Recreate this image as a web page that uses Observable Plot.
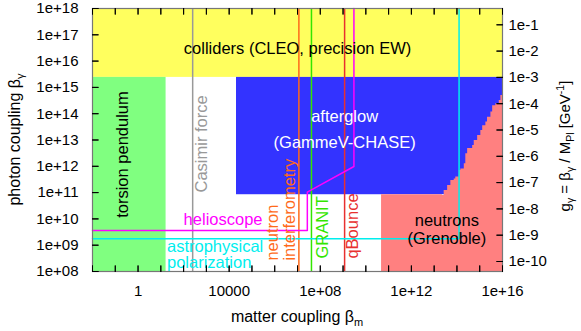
<!DOCTYPE html>
<html><head><meta charset="utf-8">
<script src="https://cdn.jsdelivr.net/npm/d3@7"></script>
<script src="https://cdn.jsdelivr.net/npm/@observablehq/plot@0.6"></script>
<style>body{margin:0;background:#fff} svg{display:block}</style>
</head><body><div id="chart"></div><script>
// ---- data ----
const M_PL = 2.4e18; // reduced Planck mass in GeV
const xTickValues = [1e-2,1e-1,1,1e1,1e2,1e3,1e4,1e5,1e6,1e7,1e8,1e9,1e10,1e11,1e12,1e13,1e14,1e15,1e16];
const xLabelValues = [1, 1e4, 1e8, 1e12, 1e16];
const xLabelText = ["1", "10000", "1e+08", "1e+12", "1e+16"];
const yTickValues = [1e8,1e9,1e10,1e11,1e12,1e13,1e14,1e15,1e16,1e17,1e18];
const yLabelText = ["1e+08","1e+09","1e+10","1e+11","1e+12","1e+13","1e+14","1e+15","1e+16","1e+17","1e+18"];
const gTickValues = [1e-10,1e-9,1e-8,1e-7,1e-6,1e-5,1e-4,1e-3,1e-2,1e-1];
const gLabelText = ["1e-10","1e-9","1e-8","1e-7","1e-6","1e-5","1e-4","1e-3","1e-2","1e-1"];

// excluded rectangular regions
const rectNames = ["colliders", "torsion", "afterglow"];
const rectXmin = [1e-2, 1e-2, 2.1e4];
const rectXmax = [1e16, 17, 1e16];
const rectYmin = [2.4e15, 1e8, 8.3e10];
const rectYmax = [1e18, 2.4e15, 2.4e15];

// neutrons (Grenoble) upper boundary (step)
const neutronX = [4.9e10, 2.3e13, 2.75e13, 3.9e13, 5.4e13, 7.6e13, 8.9e13, 1.26e14, 1.48e14, 2.1e14, 2.45e14, 2.95e14, 4.9e14, 5.75e14, 8.1e14, 1.12e15, 1.35e15, 1.86e15, 2.2e15, 3.1e15, 3.7e15, 5.1e15, 7.2e15, 8.5e15, 1e16];
const neutronY = [8.3e10, 7.8e10, 1.2e11, 1.86e11, 2.9e11, 3.3e11, 3.9e11, 6.9e11, 7.9e11, 1.26e12, 3.0e12, 4.7e12, 6.2e12, 9.5e12, 1.48e13, 2.3e13, 3.5e13, 4.8e13, 7.4e13, 1.15e14, 2.0e14, 2.4e14, 3.2e14, 4.9e14, 4.9e14];

// vertical bounds
const vlineNames = ["casimir", "interf", "granit", "qbounce"];
const vlineX = [250, 1.15e7, 4.1e7, 1.17e9];

// helioscope bound
const helioX = [1e-2, 2.7e7, 2.7e7, 3.0e9, 3.0e9];
const helioY = [3.6e9, 3.6e9, 1.05e11, 9.8e11, 1e18];
// astrophysical polarization bound
const astroX = [1e-2, 1.24e14, 1.24e14];
const astroY = [1.75e9, 1.75e9, 1e18];

// labels
const labelText = ["colliders (CLEO, precision EW)", "afterglow\n(GammeV-CHASE)", "neutrons\n(Grenoble)", "helioscope", "astrophysical\npolarization", "torsion pendulum", "Casimir force", "neutron\ninterferometry", "GRANIT", "qBounce"];
const labelKey = ["black", "white", "black", "helio", "astro", "black", "casimir", "interf", "granit", "qbounce"];
const labelX = [1e7, 1.17e9, 3.6e13, 100, 18.6, 0.21, 630, 1.9e6, 1.3e8, 2.7e9];
const labelY = [3.0e16, 3.2e13, 4e9, 9.1e9, 4.3e8, 2.8e12, 7.1e12, 2.6e8, 3.1e8, 3.1e8];

// ---- styles ----
const fills = {colliders: "#ffff5e", torsion: "#80ff80", afterglow: "#3333ff", neutrons: "#ff8080"};
const colors = {black: "#000", white: "#fff", casimir: "#999999", interf: "#ff6a1a", granit: "#33e600", qbounce: "#e8302f", helio: "#ff00ff", astro: "#00eeee"};
const labelAnchor = ["middle","middle","middle","start","start","middle","middle","start","start","start"];
const labelRotate = [0,0,0,0,0,-90,-90,-90,-90,-90];
const labelLH = [1,1.55,1.05,1,1.0,1,1,1,1,1];

const idx = a => a.map((_, i) => i);

const marks = [];
rectNames.forEach((n, i) => marks.push(Plot.rect([n], {x1: rectXmin[i], x2: rectXmax[i], y1: rectYmin[i], y2: rectYmax[i], fill: fills[n]})));
marks.push(Plot.areaY(idx(neutronX), {x: i => neutronX[i], y1: 1e8, y2: i => neutronY[i], curve: "step-after", fill: fills.neutrons}));
vlineNames.forEach((n, i) => marks.push(Plot.ruleX([vlineX[i]], {stroke: colors[n], strokeWidth: 1.5})));
marks.push(Plot.line(idx(helioX), {x: i => helioX[i], y: i => helioY[i], stroke: colors.helio, strokeWidth: 1.5}));
marks.push(Plot.line(idx(astroX), {x: i => astroX[i], y: i => astroY[i], stroke: colors.astro, strokeWidth: 1.5}));
labelText.forEach((t, i) => marks.push(Plot.text([t], {x: labelX[i], y: labelY[i], text: d => d, fill: colors[labelKey[i]], textAnchor: labelAnchor[i], rotate: labelRotate[i], lineHeight: labelLH[i], fontSize: 16.5})));
marks.push(Plot.frame({stroke: "#777", strokeWidth: 1.2}));
// inward ticks
const spike = {shape: "spike", r: 0, length: 6, anchor: "start", stroke: "black", strokeWidth: 1};
marks.push(Plot.vector(xTickValues, {x: d => d, y: 1e8, rotate: 0, ...spike}));
marks.push(Plot.vector(xTickValues, {x: d => d, y: 1e18, rotate: 180, ...spike}));
marks.push(Plot.vector(yTickValues, {x: 1e-2, y: d => d, rotate: 90, ...spike}));
marks.push(Plot.vector(gTickValues.map(g => g * M_PL), {x: 1e16, y: d => d, rotate: -90, ...spike}));
// tick labels
marks.push(Plot.axisX(xLabelValues, {tickSize: 0, tickPadding: 14, tickFormat: d => xLabelText[xLabelValues.indexOf(d)], fontSize: 15, label: null}));
marks.push(Plot.axisY(yTickValues, {anchor: "left", tickSize: 0, tickPadding: 14, tickFormat: d => yLabelText[yTickValues.indexOf(d)], fontSize: 15, label: null}));
const gPos = gTickValues.map(g => g * M_PL);
marks.push(Plot.axisY(gPos, {anchor: "right", tickSize: 0, tickPadding: 6, tickFormat: d => gLabelText[gPos.indexOf(d)], fontSize: 15, label: null}));

const svg = Plot.plot({
  width: 581, height: 331,
  marginLeft: 92, marginRight: 79, marginTop: 8, marginBottom: 60,
  x: {type: "log", domain: [1e-2, 1e16]},
  y: {type: "log", domain: [1e8, 1e18]},
  style: {fontFamily: "'Liberation Sans', Arial, sans-serif", fontSize: "15px", background: "white", color: "black"},
  marks
});

// axis titles
const s = d3.select(svg);
const ff = "'Liberation Sans', Arial, sans-serif";
const xt = s.append("text").attr("x", 297).attr("y", 322).attr("text-anchor", "middle").attr("font-size", 16).attr("font-family", ff).attr("fill", "black");
xt.append("tspan").text("matter coupling β");
xt.append("tspan").attr("dy", 4).attr("font-size", 11).text("m");

const yt = s.append("text").attr("transform", "translate(20,139.5) rotate(-90)").attr("text-anchor", "middle").attr("font-size", 16).attr("font-family", ff).attr("fill", "black");
yt.append("tspan").text("photon coupling β");
yt.append("tspan").attr("dy", 4).attr("font-size", 11).text("γ");

const rt = s.append("text").attr("transform", "translate(570,146) rotate(-90)").attr("text-anchor", "middle").attr("font-size", 15).attr("font-family", ff).attr("fill", "black");
rt.append("tspan").text("g");
rt.append("tspan").attr("dy", 4).attr("font-size", 10.5).text("γ");
rt.append("tspan").attr("dy", -4).text(" = β");
rt.append("tspan").attr("dy", 4).attr("font-size", 10.5).text("γ");
rt.append("tspan").attr("dy", -4).text(" / M");
rt.append("tspan").attr("dy", 4).attr("font-size", 10.5).text("Pl");
rt.append("tspan").attr("dy", -4).text(" [GeV");
rt.append("tspan").attr("dy", -6).attr("font-size", 10.5).text("-1");
rt.append("tspan").attr("dy", 6).text("]");

document.getElementById("chart").appendChild(svg);
</script></body></html>
